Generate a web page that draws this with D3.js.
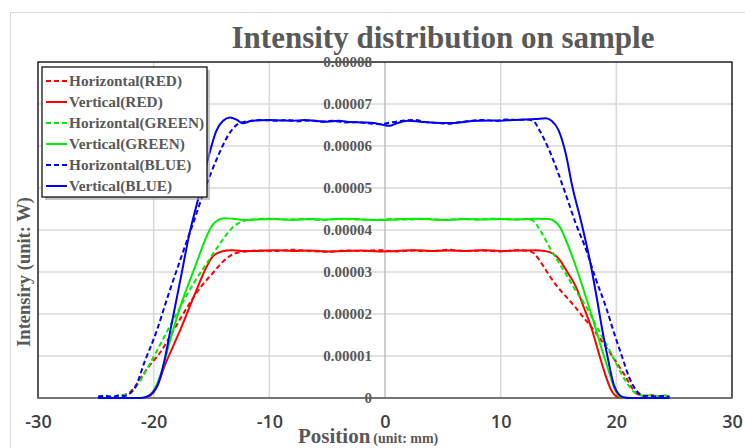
<!DOCTYPE html>
<html>
<head>
<meta charset="utf-8">
<script src="https://cdn.jsdelivr.net/npm/d3@7"></script>
<style>
  html, body { margin: 0; padding: 0; background: #fff; }
  svg { display: block; }
</style>
</head>
<body>
<svg id="chart" width="745" height="448"></svg>
<script>
// ---- Data (intensity values in units of 1e-5 W, position in mm) ----
const xTicks = [-30, -20, -10, 0, 10, 20, 30];
const xTickLabels = ["-30", "-20", "-10", "0", "10", "20", "30"];
const yTicks = [0, 1, 2, 3, 4, 5, 6, 7, 8];
const yTickLabels = ["0", "0.00001", "0.00002", "0.00003", "0.00004", "0.00005", "0.00006", "0.00007", "0.00008"];

const seriesNames = ["Horizontal(RED)", "Vertical(RED)", "Horizontal(GREEN)", "Vertical(GREEN)", "Horizontal(BLUE)", "Vertical(BLUE)"];
const seriesColors = ["#ff0000", "#ff0000", "#00ee00", "#00ee00", "#0000ff", "#0000ff"];
const seriesDashed = [true, false, true, false, true, false];

const redH = [[-24.8,0.03],[-24.2,0.05],[-23.6,0.02],[-23.0,0.06],[-22.5,0.08],[-22.0,0.15],[-21.5,0.32],[-20.5,0.72],[-19.5,1.06],[-18.2,1.65],[-16.9,2.25],[-15.9,2.65],[-14.9,2.97],[-14.0,3.25],[-13.0,3.44],[-12.0,3.49],[-11.0,3.51],[-9.5,3.50],[-8.0,3.53],[-6.5,3.50],[-5.0,3.48],[-3.5,3.51],[-2.0,3.50],[-0.5,3.52],[1.0,3.49],[2.5,3.51],[4.0,3.50],[5.5,3.53],[7.0,3.50],[8.5,3.51],[10.0,3.49],[11.5,3.52],[12.4,3.50],[12.9,3.44],[13.5,3.22],[14.2,2.92],[14.9,2.65],[15.6,2.43],[16.4,2.18],[17.1,1.94],[18.1,1.60],[19.1,1.22],[20.0,0.85],[20.8,0.51],[21.4,0.22],[21.9,0.08],[22.4,0.05],[23.0,0.07],[23.6,0.04],[24.2,0.06],[24.6,0.03]];
const redV = [[-24.8,0],[-21.0,0],[-20.4,0.04],[-19.8,0.22],[-19.0,0.80],[-17.7,1.62],[-16.3,2.57],[-15.5,3.08],[-14.9,3.37],[-14.1,3.49],[-13.3,3.52],[-12.4,3.50],[-11.0,3.50],[-9.5,3.52],[-8.0,3.50],[-6.5,3.51],[-5.0,3.49],[-3.5,3.50],[-2.0,3.51],[-0.5,3.49],[1.0,3.50],[2.5,3.52],[4.0,3.50],[5.5,3.51],[7.0,3.50],[8.5,3.52],[10.0,3.50],[11.5,3.51],[13.0,3.52],[13.8,3.50],[14.5,3.44],[15.1,3.29],[15.8,2.98],[16.5,2.65],[17.2,2.15],[17.9,1.62],[18.5,1.05],[19.1,0.51],[19.5,0.22],[19.9,0.06],[20.4,0],[24.6,0]];
const greenH = [[-24.8,0.03],[-24.2,0.06],[-23.6,0.03],[-23.0,0.05],[-22.5,0.07],[-22.0,0.12],[-21.2,0.40],[-20.3,0.83],[-19.0,1.50],[-17.7,2.17],[-16.5,2.75],[-15.4,3.21],[-14.2,3.70],[-13.1,4.08],[-12.4,4.20],[-11.6,4.25],[-10.0,4.27],[-8.5,4.25],[-7.0,4.26],[-5.5,4.24],[-4.0,4.26],[-2.5,4.25],[-1.0,4.24],[0.5,4.26],[2.0,4.25],[3.5,4.27],[5.0,4.24],[6.5,4.26],[8.0,4.25],[9.5,4.27],[11.0,4.25],[12.3,4.26],[12.8,4.22],[13.4,4.00],[14.2,3.60],[15.6,2.97],[16.5,2.55],[17.4,2.17],[18.4,1.65],[19.4,1.14],[20.4,0.60],[21.0,0.32],[21.5,0.15],[22.0,0.07],[22.5,0.05],[23.1,0.07],[23.7,0.04],[24.2,0.06],[24.6,0.03]];
const greenV = [[-24.8,0],[-21.0,0],[-20.5,0.04],[-20.0,0.18],[-19.4,0.55],[-18.6,1.35],[-17.7,2.17],[-16.3,3.21],[-15.5,3.80],[-14.9,4.12],[-14.4,4.24],[-13.9,4.28],[-13.2,4.27],[-12.2,4.24],[-11.0,4.25],[-9.5,4.26],[-8.0,4.24],[-6.5,4.26],[-5.0,4.25],[-3.5,4.27],[-2.0,4.25],[-0.5,4.24],[1.0,4.25],[2.5,4.27],[4.0,4.25],[5.5,4.24],[7.0,4.26],[8.5,4.25],[10.0,4.26],[11.5,4.25],[13.0,4.27],[14.2,4.26],[14.7,4.20],[15.1,4.08],[15.8,3.65],[16.5,3.13],[17.2,2.55],[17.9,1.94],[18.7,1.20],[19.4,0.59],[19.8,0.25],[20.2,0.06],[20.6,0],[24.6,0]];
const blueH = [[-24.8,0.03],[-24.2,0.05],[-23.6,0.02],[-23.0,0.06],[-22.5,0.05],[-22.1,0.10],[-21.6,0.25],[-20.8,0.85],[-19.8,1.55],[-18.8,2.40],[-17.7,3.29],[-16.6,4.15],[-15.6,4.95],[-14.5,5.72],[-13.5,6.28],[-13.0,6.46],[-12.4,6.56],[-11.5,6.60],[-10.5,6.62],[-9.5,6.60],[-8.5,6.62],[-7.5,6.59],[-6.5,6.61],[-5.5,6.58],[-4.5,6.60],[-3.5,6.56],[-2.5,6.57],[-1.5,6.54],[-0.5,6.52],[0.5,6.56],[1.5,6.60],[2.5,6.62],[3.5,6.57],[4.5,6.55],[5.5,6.53],[6.5,6.57],[7.5,6.60],[8.5,6.62],[9.5,6.60],[10.5,6.63],[11.5,6.62],[12.3,6.63],[12.8,6.60],[13.4,6.35],[14.2,5.90],[15.6,4.87],[16.5,4.15],[17.4,3.52],[18.2,2.85],[19.1,2.17],[19.8,1.55],[20.5,0.98],[21.1,0.50],[21.7,0.19],[22.3,0.06],[22.9,0.05],[23.5,0.03],[24.1,0.05],[24.6,0.02]];
const blueV = [[-24.8,0],[-21.2,0],[-20.6,0.03],[-20.1,0.12],[-19.6,0.35],[-19.1,0.85],[-18.6,1.55],[-17.7,2.80],[-16.9,3.92],[-16.0,4.90],[-15.2,5.80],[-14.6,6.35],[-14.0,6.60],[-13.4,6.68],[-12.8,6.62],[-12.3,6.54],[-11.5,6.60],[-10.0,6.62],[-9.0,6.61],[-8.0,6.60],[-7.0,6.62],[-6.0,6.60],[-5.0,6.58],[-4.0,6.60],[-3.0,6.57],[-2.0,6.56],[-1.0,6.55],[-0.3,6.51],[0.4,6.48],[1.0,6.54],[2.0,6.60],[3.0,6.58],[4.0,6.56],[5.0,6.55],[6.0,6.55],[7.0,6.58],[8.0,6.60],[9.0,6.61],[10.0,6.60],[11.0,6.62],[12.0,6.63],[13.0,6.64],[13.9,6.66],[14.4,6.60],[15.0,6.38],[15.6,5.85],[16.2,5.03],[17.0,4.15],[17.7,3.29],[18.3,2.40],[18.8,1.60],[19.3,0.90],[19.8,0.30],[20.2,0.09],[20.6,0.02],[21.2,0],[24.6,0]];

const seriesData = [redH, redV, greenH, greenV, blueH, blueV];

// ---- Layout ----
const svg = d3.select("#chart");
const plot = { left: 38, right: 732, top: 62, bottom: 398 };
const x = d3.scaleLinear().domain([-30, 30]).range([plot.left, plot.right]);
const y = d3.scaleLinear().domain([0, 8]).range([plot.bottom, plot.top]);
const serif = "'Liberation Serif', 'Times New Roman', serif";
const textGrey = "#595959";

// outer chart border
svg.append("rect").attr("x", 10.5).attr("y", 12.5).attr("width", 760).attr("height", 460)
  .attr("fill", "#fff").attr("stroke", "#d9d9d9").attr("stroke-width", 1);

// gridlines
svg.append("g").selectAll("line.h").data(yTicks.slice(1, -1)).join("line")
  .attr("x1", plot.left).attr("x2", plot.right)
  .attr("y1", d => y(d)).attr("y2", d => y(d))
  .attr("stroke", "#d9d9d9").attr("stroke-width", 1.5);
svg.append("g").selectAll("line.v").data(xTicks.filter(d => d !== 0 && d !== -30 && d !== 30)).join("line")
  .attr("x1", d => x(d)).attr("x2", d => x(d))
  .attr("y1", plot.top).attr("y2", plot.bottom)
  .attr("stroke", "#d9d9d9").attr("stroke-width", 1.5);

// vertical axis line at x=0
svg.append("line").attr("x1", x(0)).attr("x2", x(0)).attr("y1", plot.top).attr("y2", plot.bottom)
  .attr("stroke", "#bfbfbf").attr("stroke-width", 1.5);

// plot frame
svg.append("rect").attr("x", plot.left).attr("y", plot.top)
  .attr("width", plot.right - plot.left).attr("height", plot.bottom - plot.top)
  .attr("fill", "none").attr("stroke", "#000").attr("stroke-width", 1.3);
svg.append("line").attr("x1", plot.left).attr("x2", plot.right).attr("y1", plot.bottom).attr("y2", plot.bottom)
  .attr("stroke", "#7f7f7f").attr("stroke-width", 1.5);

// Y axis labels at x = 0
const yAxis = d3.axisLeft(y).tickValues(yTicks).tickSize(0).tickPadding(13)
  .tickFormat((d, i) => yTickLabels[i]);
const gy = svg.append("g").attr("transform", `translate(${x(0)},0)`).call(yAxis);
gy.select(".domain").remove();
gy.selectAll("text").attr("font-family", serif).attr("font-weight", "bold")
  .attr("font-size", 15).attr("fill", textGrey);

// X axis labels
const xAxis = d3.axisBottom(x).tickValues(xTicks).tickSize(0).tickPadding(17)
  .tickFormat((d, i) => xTickLabels[i]);
const gx = svg.append("g").attr("transform", `translate(0,${plot.bottom})`).call(xAxis);
gx.select(".domain").remove();
gx.selectAll("text").attr("font-family", "'Open Sans', 'Liberation Sans', sans-serif")
  .attr("font-weight", 600).attr("font-size", 18).attr("fill", "#404040");

// Lines
const line = d3.line().x(d => x(d[0])).y(d => y(d[1])).curve(d3.curveMonotoneX);
svg.append("g").selectAll("path").data(seriesData).join("path")
  .attr("d", d => line(d))
  .attr("fill", "none")
  .attr("stroke", (d, i) => seriesColors[i])
  .attr("stroke-width", 2)
  .attr("stroke-dasharray", (d, i) => seriesDashed[i] ? "5,3" : null)
  .attr("stroke-linejoin", "round");

// Legend
const lg = { x: 42, y: 67, w: 165, h: 130 };
svg.append("rect").attr("x", lg.x + 3).attr("y", lg.y + 3).attr("width", lg.w).attr("height", lg.h)
  .attr("fill", "#a0a0a0").attr("opacity", 0.6);
svg.append("rect").attr("x", lg.x).attr("y", lg.y).attr("width", lg.w).attr("height", lg.h)
  .attr("fill", "#fff").attr("stroke", "#000").attr("stroke-width", 1.2);
const rows = svg.append("g").selectAll("g").data(seriesNames).join("g")
  .attr("transform", (d, i) => `translate(0,${81 + i * 21})`);
rows.append("line").attr("x1", 46).attr("x2", 67).attr("y1", 0).attr("y2", 0)
  .attr("stroke", (d, i) => seriesColors[i]).attr("stroke-width", 2)
  .attr("stroke-dasharray", (d, i) => seriesDashed[i] ? "5,3" : null);
rows.append("text").attr("x", 69).attr("dy", "0.35em").text(d => d)
  .attr("font-family", serif).attr("font-weight", "bold").attr("font-size", 15.3).attr("fill", textGrey);

// Title
svg.append("text").attr("x", 443).attr("y", 48).attr("text-anchor", "middle")
  .attr("font-family", serif).attr("font-weight", "bold").attr("font-size", 31).attr("fill", textGrey)
  .text("Intensity distribution on sample");

// X axis title
const xt = svg.append("text").attr("x", 298).attr("y", 443)
  .attr("font-family", serif).attr("font-weight", "bold").attr("fill", textGrey);
xt.append("tspan").attr("font-size", 21).text("Position");
xt.append("tspan").attr("font-size", 14).attr("dx", 3).text("(unit: mm)");

// Y axis title
svg.append("text").attr("transform", "translate(30,272) rotate(-90)").attr("text-anchor", "middle")
  .attr("font-family", serif).attr("font-weight", "bold").attr("font-size", 18.5).attr("fill", textGrey)
  .text("Intensiry (unit: W)");
</script>
</body>
</html>
